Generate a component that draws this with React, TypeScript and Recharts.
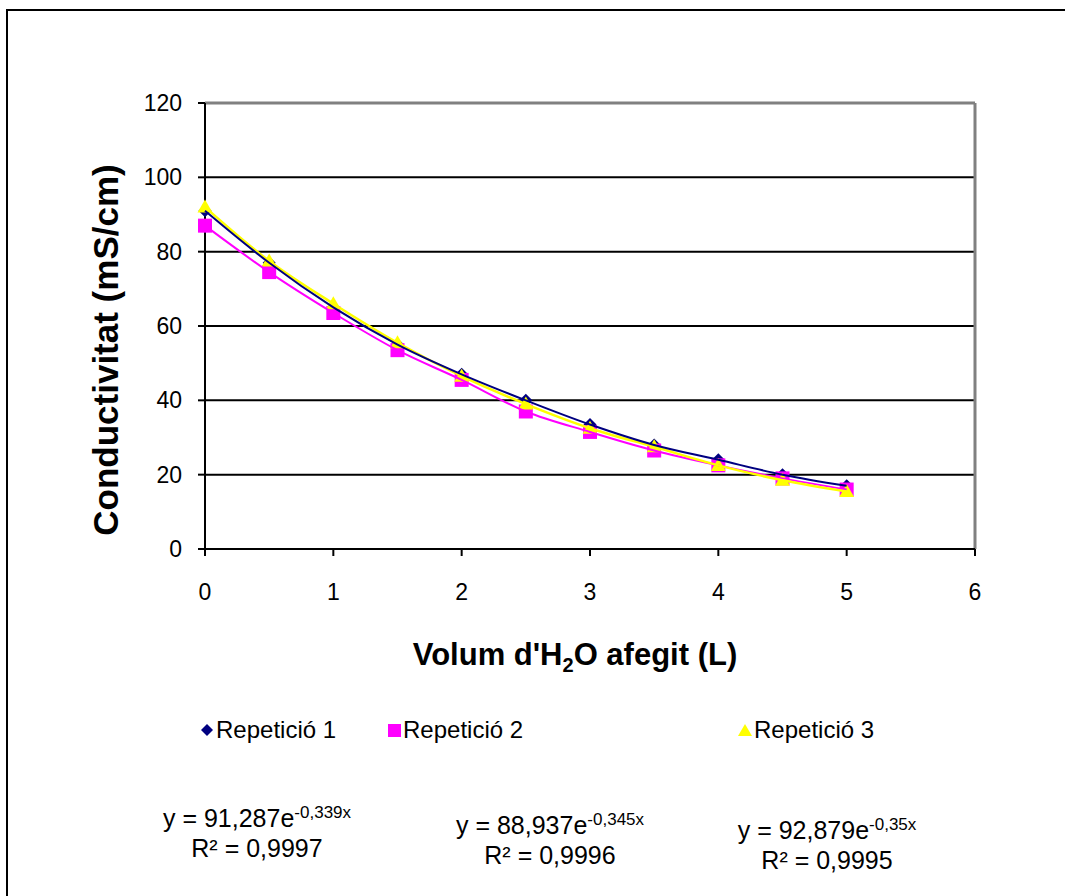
import { CartesianGrid, Legend, ReferenceLine, Scatter, ScatterChart, XAxis, YAxis } from "recharts";

const volumes = [0, 0.5, 1, 1.5, 2, 2.5, 3, 3.5, 4, 4.5, 5];
const rep1 = [91, 77, 65, 55, 47, 40, 33.5, 28, 24, 20, 17];
const rep2 = [87, 74.5, 63.5, 53.5, 45.5, 37, 31.5, 26.5, 22.5, 19, 16];
const rep3 = [92, 77.5, 66, 55.5, 46.5, 39, 32.5, 27.5, 22.5, 18.5, 15.5];

const xTicks = [0, 1, 2, 3, 4, 5, 6];
const yTicks = [0, 20, 40, 60, 80, 100, 120];

const seriesNames = ["Repetició 1", "Repetició 2", "Repetició 3"];
const fitCoef = ["91,287", "88,937", "92,879"];
const fitExp = ["-0,339x", "-0,345x", "-0,35x"];
const fitR2 = ["0,9997", "0,9996", "0,9995"];

const FONT = "'Liberation Sans', Arial, sans-serif";
const NAVY = "#000080";
const MAGENTA = "#FF00FF";
const YELLOW = "#FFFF00";

const toPoints = (values: number[]) => volumes.map((x, i) => ({ x, y: values[i] }));

const Diamond = ({ cx, cy }: any) => (
  <polygon points={`${cx},${cy - 6.5} ${cx + 6.5},${cy} ${cx},${cy + 6.5} ${cx - 6.5},${cy}`} fill={NAVY} />
);
const Square = ({ cx, cy }: any) => <rect x={cx - 7} y={cy - 7} width={14} height={14} fill={MAGENTA} />;
const Triangle = ({ cx, cy }: any) => (
  <polygon points={`${cx},${cy - 7.5} ${cx + 7.5},${cy + 5.5} ${cx - 7.5},${cy + 5.5}`} fill={YELLOW} />
);
const NoMark = () => <g />;

const legendMarks = [
  <svg width={14} height={14} key="d"><polygon points="7,1 13,7 7,13 1,7" fill={NAVY} /></svg>,
  <svg width={13} height={13} key="s"><rect x={0} y={0} width={13} height={13} fill={MAGENTA} /></svg>,
  <svg width={14} height={14} key="t"><polygon points="7,1 14,13 0,13" fill={YELLOW} /></svg>,
];
const legendLeft = [200, 388, 738];
const eqCenter = [257, 550, 827];
const eqTop = [798, 805, 810];

function LegendContent() {
  return (
    <div style={{ position: "relative", width: 1065, height: 30, fontFamily: FONT, fontSize: 24 }}>
      {seriesNames.map((name, i) => (
        <div key={name} style={{ position: "absolute", left: legendLeft[i], top: 0, display: "flex", alignItems: "center", whiteSpace: "nowrap" }}>
          {legendMarks[i]}
          <span style={{ marginLeft: 2 }}>{name}</span>
        </div>
      ))}
    </div>
  );
}

export default function App() {
  return (
    <div style={{ position: "fixed", left: 0, top: 0, width: 1065, height: 896, overflow: "hidden", background: "#fff", fontFamily: FONT }}>
      <div style={{ position: "absolute", left: 6, top: 9, width: 1100, height: 950, border: "2px solid #000" }} />
      <ScatterChart width={1065} height={896} margin={{ top: 103, right: 90, bottom: 257, left: 0 }} style={{ position: "absolute", left: 0, top: 0 }}>
        <CartesianGrid horizontal vertical={false} stroke="#000" strokeWidth={2} />
        <XAxis
          type="number"
          dataKey="x"
          domain={[0, 6]}
          ticks={xTicks}
          height={60}
          tickSize={7}
          tickMargin={28}
          axisLine={{ stroke: "#000", strokeWidth: 2 }}
          tickLine={{ stroke: "#000", strokeWidth: 2 }}
          tick={{ fill: "#000", fontSize: 23, fontFamily: FONT }}
        />
        <YAxis
          type="number"
          dataKey="y"
          domain={[0, 120]}
          ticks={yTicks}
          width={205}
          tickSize={7}
          tickMargin={16}
          axisLine={{ stroke: "#000", strokeWidth: 2 }}
          tickLine={{ stroke: "#000", strokeWidth: 2 }}
          tick={{ fill: "#000", fontSize: 23, fontFamily: FONT }}
        />
        <ReferenceLine y={120} stroke="#808080" strokeWidth={3} />
        <ReferenceLine x={6} stroke="#808080" strokeWidth={3} />
        <Legend content={<LegendContent />} wrapperStyle={{ position: "absolute", left: 0, top: 716, width: 1065 }} />
        <Scatter name={seriesNames[0]} data={toPoints(rep1)} shape={<Diamond />} isAnimationActive={false} legendType="none" />
        <Scatter name={seriesNames[1]} data={toPoints(rep2)} shape={<Square />} isAnimationActive={false} legendType="none" />
        <Scatter name={seriesNames[2]} data={toPoints(rep3)} shape={<Triangle />} isAnimationActive={false} legendType="none" />
        <Scatter data={toPoints(rep2)} shape={<NoMark />} line={{ stroke: MAGENTA, strokeWidth: 2 }} lineJointType="monotoneX" isAnimationActive={false} legendType="none" />
        <Scatter data={toPoints(rep3)} shape={<NoMark />} line={{ stroke: YELLOW, strokeWidth: 2.5 }} lineJointType="monotoneX" isAnimationActive={false} legendType="none" />
        <Scatter data={toPoints(rep1)} shape={<NoMark />} line={{ stroke: NAVY, strokeWidth: 2 }} lineJointType="monotoneX" isAnimationActive={false} legendType="none" />
      </ScatterChart>

      <div
        style={{
          position: "absolute",
          left: 106,
          top: 350,
          transform: "translate(-50%, -50%) rotate(-90deg)",
          whiteSpace: "nowrap",
          fontWeight: "bold",
          fontSize: 35,
        }}
      >
        Conductivitat (mS/cm)
      </div>
      <div
        style={{
          position: "absolute",
          left: 575,
          top: 657,
          transform: "translate(-50%, -50%)",
          whiteSpace: "nowrap",
          fontWeight: "bold",
          fontSize: 31,
        }}
      >
        Volum d'H<sub style={{ fontSize: 20 }}>2</sub>O afegit (L)
      </div>

      {fitCoef.map((c, i) => (
        <div
          key={c}
          style={{
            position: "absolute",
            left: eqCenter[i],
            top: eqTop[i],
            transform: "translateX(-50%)",
            textAlign: "center",
            whiteSpace: "nowrap",
            fontSize: 25,
            lineHeight: "30px",
          }}
        >
          <div>
            y = {c}e<sup style={{ fontSize: 17, verticalAlign: 9 }}>{fitExp[i]}</sup>
          </div>
          <div>R² = {fitR2[i]}</div>
        </div>
      ))}
    </div>
  );
}
